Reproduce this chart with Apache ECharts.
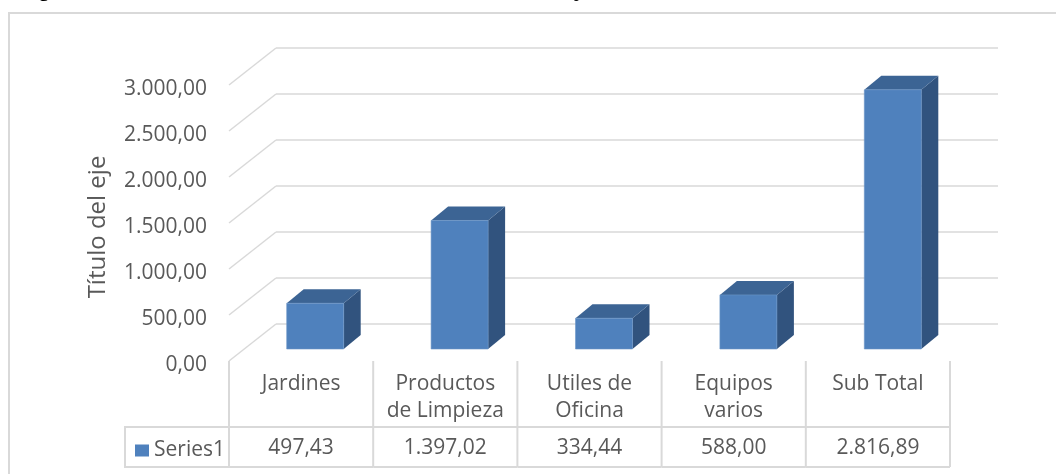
<!DOCTYPE html>
<html>
<head>
<meta charset="utf-8">
<script src="https://cdn.jsdelivr.net/npm/echarts@6/dist/echarts.min.js"></script>
<style>
  html, body { margin: 0; padding: 0; background: #fff; }
  #chart { width: 1056px; height: 474px; }
</style>
</head>
<body>
<div id="chart"></div>
<script>
// categorias y valores (Series1)
var categorias = ['Jardines', 'Productos\nde Limpieza', 'Utiles de\nOficina', 'Equipos\nvarios', 'Sub Total'];
var valores = [497.43, 1397.02, 334.44, 588.00, 2816.89];
var ticksY = [0, 500, 1000, 1500, 2000, 2500, 3000];

var GRIS = '#D9D9D9';
var TEXTO = '#595959';
var FUENTE = 'Open Sans';

// formato es: 1.397,02
function fmt(v) {
  var s = v.toFixed(2).split('.');
  s[0] = s[0].replace(/\B(?=(\d{3})+(?!\d))/g, '.');
  return s[0] + ',' + s[1];
}

// profundidad de la pared (fondo -> frente)
var paredDX = -47, paredDY = 37;
// barra: desplazamiento de la cara frontal y profundidad propia
var barDX = -33, barDY = 25, barW = 57, profX = 17, profY = -14;
// las etiquetas del eje quedan un poco bajo la linea -> la tabla compensa
var bajada = 4;

var myChart = echarts.init(document.getElementById('chart'));

var option = {
  animation: false,
  backgroundColor: '#fff',
  grid: [
    { left: 276, right: 58, top: 48, bottom: 150 },                       // pared del fondo
    { left: 229, right: 106, top: 85 + bajada, bottom: 113 - bajada }     // frente
  ],
  xAxis: [
    { type: 'category', gridIndex: 0, data: categorias, show: false },
    { type: 'category', gridIndex: 1, data: categorias, show: false }
  ],
  yAxis: [
    {
      type: 'value', gridIndex: 0, min: 0, max: 3000, interval: 500,
      axisLabel: { show: false }, axisLine: { show: false }, axisTick: { show: false },
      splitLine: { lineStyle: { color: GRIS, width: 1.5 } }
    },
    {
      type: 'value', gridIndex: 1, min: 0, max: 3000, interval: 500,
      axisLine: { show: false }, axisTick: { show: false }, splitLine: { show: false },
      axisLabel: { margin: 22, color: TEXTO, fontFamily: FUENTE, fontSize: 21, formatter: fmt },
      name: 'Título del eje', nameLocation: 'middle', nameGap: 119, nameRotate: 90,
      nameTextStyle: { color: TEXTO, fontFamily: FUENTE, fontSize: 24 }
    }
  ],
  legend: {
    data: ['Series1'], left: 130, top: 435, icon: 'rect', itemWidth: 14, itemHeight: 12, itemGap: 8,
    selectedMode: false,
    textStyle: { color: TEXTO, fontFamily: FUENTE, fontSize: 21 }
  },
  graphic: [
    // marco exterior del grafico
    { type: 'rect', shape: { x: 9, y: 13, width: 1100, height: 500 }, style: { fill: null, stroke: GRIS, lineWidth: 2 }, silent: true },
    // titulo cortado arriba
    { type: 'text', left: 18, top: -21, style: { text: 'Figura 9', font: 'bold 22px "Liberation Sans"', fill: '#000' } },
    { type: 'text', left: 440, top: -21, style: { text: 'Suministros y Materiales', font: 'bold 22px "Liberation Sans"', fill: '#000' } },
    // celda de leyenda de la tabla
    { type: 'polyline', shape: { points: [[231, 427], [125, 427], [125, 467], [231, 467]] }, style: { stroke: GRIS, lineWidth: 2, fill: null } }
  ],
  series: [
    {
      // diagonales de la pared lateral
      name: 'diag', type: 'custom', xAxisIndex: 0, yAxisIndex: 0, silent: true,
      data: ticksY,
      renderItem: function (params, api) {
        var p = api.coord([0, api.value(0)]);
        var x0 = params.coordSys.x;
        return {
          type: 'line',
          shape: { x1: x0, y1: p[1], x2: x0 + paredDX, y2: p[1] + paredDY },
          style: { stroke: GRIS, lineWidth: 1.5 }
        };
      },
      encode: { y: 0 }
    },
    {
      name: 'Series1', type: 'custom', xAxisIndex: 0, yAxisIndex: 0,
      itemStyle: { color: '#4F81BD' },
      data: valores.map(function (v, i) { return [i, v]; }),
      renderItem: function (params, api) {
        var t = api.coord([api.value(0), api.value(1)]);
        var b = api.coord([api.value(0), 0]);
        var cx = t[0] + barDX;
        var xl = cx - barW / 2, xr = cx + barW / 2;
        var yt = t[1] + barDY, yb = b[1] + barDY;
        return {
          type: 'group',
          children: [
            { type: 'polygon', shape: { points: [[xr, yt], [xr + profX, yt + profY], [xr + profX, yb + profY], [xr, yb]] }, style: { fill: '#31537E' } },
            { type: 'polygon', shape: { points: [[xl, yt], [xr, yt], [xr + profX, yt + profY], [xl + profX, yt + profY]] }, style: { fill: '#3C6494' } },
            { type: 'rect', shape: { x: xl, y: yt, width: barW, height: yb - yt }, style: { fill: '#4F81BD', stroke: '#6B95C8', lineWidth: 0.6 } }
          ]
        };
      },
      encode: { x: 0, y: 1 }
    },
    {
      // tabla de datos bajo el eje
      name: 'tabla', type: 'custom', xAxisIndex: 1, yAxisIndex: 1, silent: true,
      data: valores.map(function (v, i) { return [i, v]; }),
      renderItem: function (params, api) {
        var i = api.value(0);
        var cx = api.coord([i, 0])[0];
        var w = api.size([1, 0])[0];
        var y0 = params.coordSys.y + params.coordSys.height - bajada;
        var xl = cx - w / 2, xr = cx + w / 2;
        var ch = [
          { type: 'line', shape: { x1: xl, y1: y0, x2: xl, y2: y0 + 106 }, style: { stroke: GRIS, lineWidth: 2 } },
          { type: 'line', shape: { x1: xl, y1: y0 + 66, x2: xr, y2: y0 + 66 }, style: { stroke: GRIS, lineWidth: 2 } },
          { type: 'line', shape: { x1: xl, y1: y0 + 106, x2: xr, y2: y0 + 106 }, style: { stroke: GRIS, lineWidth: 2 } },
          { type: 'text', x: cx, y: y0 + 10, style: { text: categorias[i], fill: TEXTO, font: '21px "' + FUENTE + '"', align: 'center', verticalAlign: 'top', lineHeight: 27 } },
          { type: 'text', x: cx, y: y0 + 87, style: { text: fmt(api.value(1)), fill: TEXTO, font: '21px "' + FUENTE + '"', align: 'center', verticalAlign: 'middle' } }
        ];
        if (i === categorias.length - 1) {
          ch.push({ type: 'line', shape: { x1: xr, y1: y0, x2: xr, y2: y0 + 106 }, style: { stroke: GRIS, lineWidth: 2 } });
        }
        return { type: 'group', children: ch };
      },
      encode: { x: 0, y: 1 }
    }
  ]
};

option && myChart.setOption(option);
</script>
</body>
</html>
